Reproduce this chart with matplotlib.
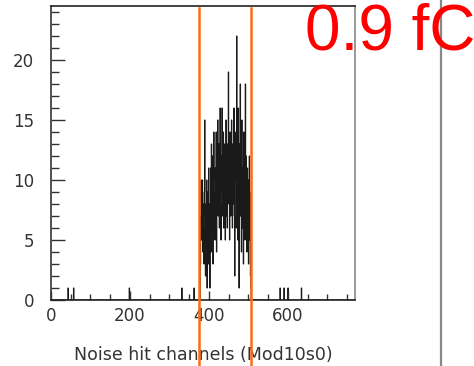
import numpy as np
import matplotlib
matplotlib.use("Agg")
import matplotlib.pyplot as plt
from matplotlib.lines import Line2D
from matplotlib.ticker import MultipleLocator

# ---- data ----
n_channels = 768
isolated_channels = [43, 57, 198, 331, 362, 506, 580, 590, 600, 634]
isolated_counts = [1, 1, 1, 1, 1, 1, 1, 1, 1, 1]
core_start = 378
core_counts = [3, 7, 10, 5, 9, 10, 4, 8, 6, 3, 9, 15, 7, 2, 8, 5, 10, 1, 6, 9,
               3, 11, 5, 8, 1, 7, 11, 4, 13, 9, 6, 12, 3, 10, 14, 6, 9, 5, 11, 8,
               14, 4, 12, 9, 15, 7, 10, 13, 6, 11, 16, 8, 5, 12, 9, 16, 7, 11, 14, 6,
               9, 13, 8, 5, 12, 15, 7, 10, 6, 13, 9, 19, 8, 11, 5, 14, 10, 7, 12, 15,
               9, 6, 13, 8, 11, 16, 7, 2, 12, 10, 14, 6, 22, 9, 11, 5, 16, 8, 1, 13,
               10, 18, 7, 12, 4, 15, 9, 6, 11, 3, 14, 8, 10, 5, 18, 7, 12, 9, 4, 11,
               6, 10, 3, 8, 12, 5, 9, 2]
cut_lines = [375, 506]
label_text = "0.9 fC"
x_label = "Noise hit channels (Mod10s0)"

counts = np.zeros(n_channels)
for c, v in zip(isolated_channels, isolated_counts):
    counts[c] = v
for i, v in enumerate(core_counts):
    counts[core_start + i] = v
edges = np.arange(n_channels + 1)

fig = plt.figure(figsize=(4.74, 3.66), dpi=100)
ax = fig.add_axes([51 / 474, 66 / 366, 304 / 474, 294 / 366])
ax.stairs(counts, edges, color="#1a1a1a", linewidth=0.8)
ax.set_xlim(0, 770)
ax.set_ylim(0, 24.5)

for x in cut_lines:
    ax.plot([x, x], [24.3, -7], color="#ff6a14", linewidth=1.8, clip_on=False, zorder=5)

ax.xaxis.set_major_locator(MultipleLocator(200))
ax.xaxis.set_minor_locator(MultipleLocator(50))
ax.yaxis.set_major_locator(MultipleLocator(5))
ax.yaxis.set_minor_locator(MultipleLocator(1))
ax.tick_params(axis="x", which="major", direction="in", length=6.5, width=1, color="#333333",
               labelsize=12, labelcolor="#333333", pad=5)
ax.tick_params(axis="x", which="minor", direction="in", length=4, width=1, color="#333333")
ax.tick_params(axis="y", which="major", direction="in", length=10, width=1, color="#333333",
               labelsize=12, labelcolor="#333333", pad=12)
ax.tick_params(axis="y", which="minor", direction="in", length=6, width=1, color="#333333")
for lab in ax.get_xticklabels() + ax.get_yticklabels():
    lab.set_family("DejaVu Sans")

ax.spines["top"].set_color("#222222")
ax.spines["left"].set_color("#333333")
ax.spines["bottom"].set_color("#222222")
ax.spines["right"].set_color("#888888")
for s in ax.spines.values():
    s.set_linewidth(1.2)

ax.set_xlabel(x_label, fontsize=12.5, color="#333333", labelpad=15)

fig.add_artist(Line2D([441 / 474, 441 / 474], [0, 1], color="#888888", linewidth=1.6))
fig.text(305 / 474, 1 - 49 / 366, label_text, color="#ff0000", fontsize=46,
         family="Liberation Sans", ha="left", va="baseline")

fig.savefig("out.png", dpi=100)
